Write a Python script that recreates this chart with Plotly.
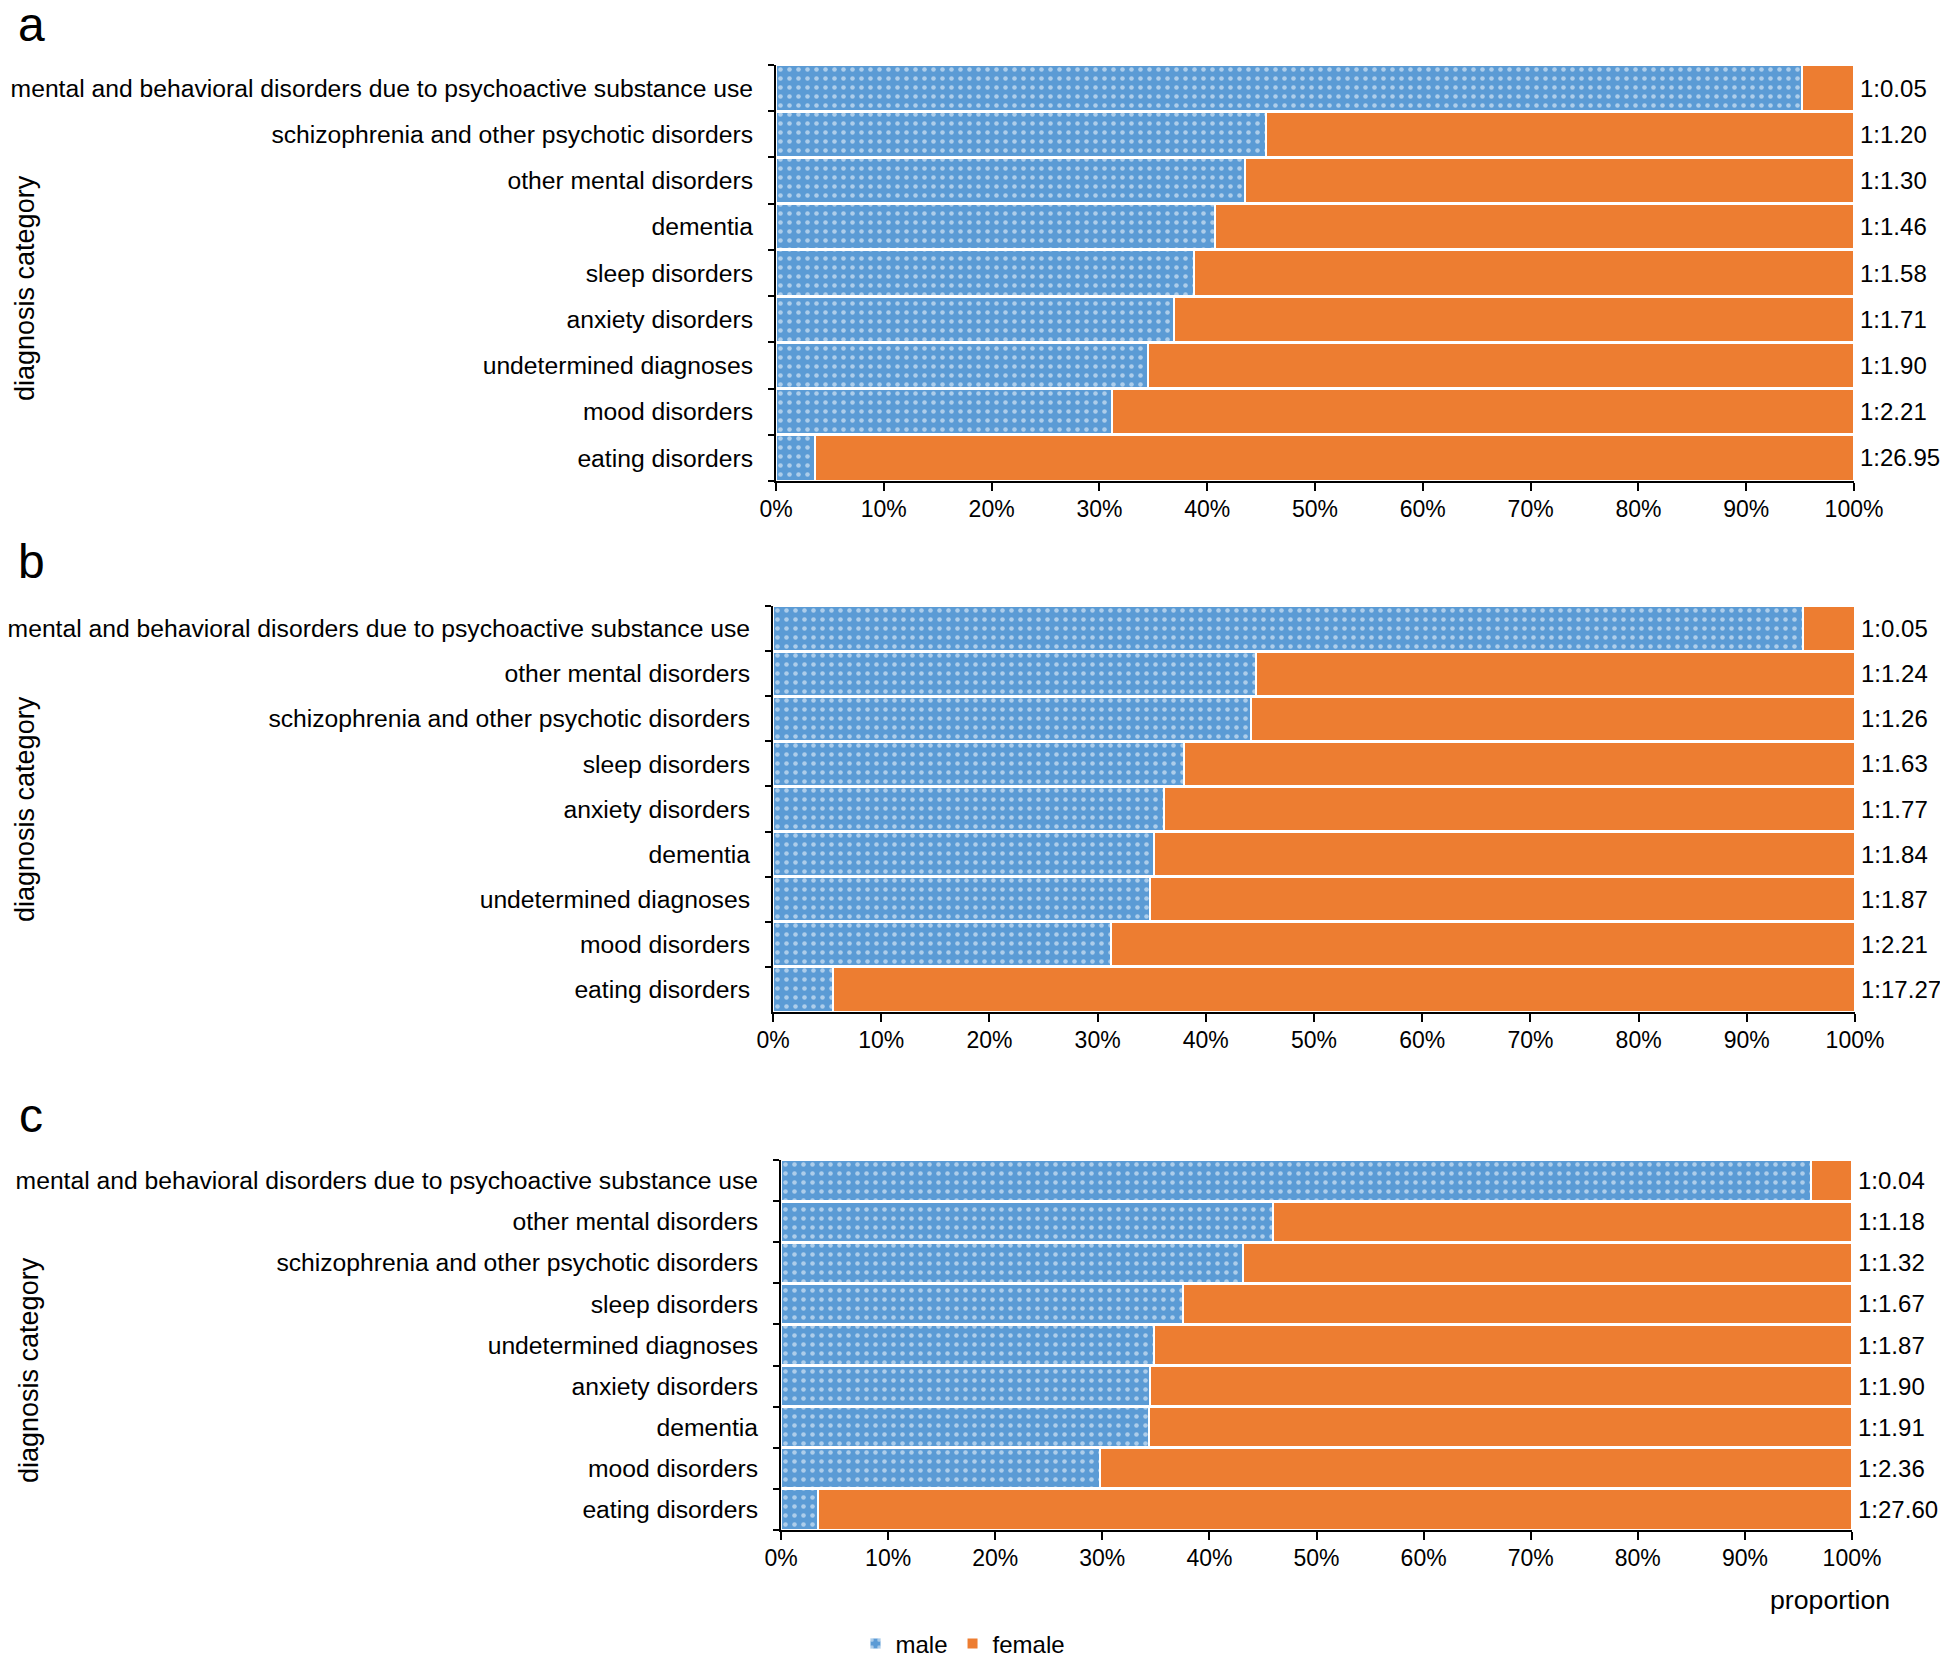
import plotly.graph_objects as go

categories_a = ["mental and behavioral disorders due to psychoactive substance use",
                "schizophrenia and other psychotic disorders", "other mental disorders",
                "dementia", "sleep disorders", "anxiety disorders", "undetermined diagnoses",
                "mood disorders", "eating disorders"]
male_a = [95.2, 45.5, 43.5, 40.7, 38.8, 36.9, 34.5, 31.2, 3.6]
ratio_a = ["1:0.05", "1:1.20", "1:1.30", "1:1.46", "1:1.58", "1:1.71", "1:1.90", "1:2.21", "1:26.95"]

categories_b = ["mental and behavioral disorders due to psychoactive substance use",
                "other mental disorders", "schizophrenia and other psychotic disorders",
                "sleep disorders", "anxiety disorders", "dementia", "undetermined diagnoses",
                "mood disorders", "eating disorders"]
male_b = [95.2, 44.6, 44.2, 38.0, 36.1, 35.2, 34.8, 31.2, 5.5]
ratio_b = ["1:0.05", "1:1.24", "1:1.26", "1:1.63", "1:1.77", "1:1.84", "1:1.87", "1:2.21", "1:17.27"]

categories_c = ["mental and behavioral disorders due to psychoactive substance use",
                "other mental disorders", "schizophrenia and other psychotic disorders",
                "sleep disorders", "undetermined diagnoses", "anxiety disorders", "dementia",
                "mood disorders", "eating disorders"]
male_c = [96.2, 45.9, 43.1, 37.5, 34.8, 34.5, 34.4, 29.8, 3.5]
ratio_c = ["1:0.04", "1:1.18", "1:1.32", "1:1.67", "1:1.87", "1:1.90", "1:1.91", "1:2.36", "1:27.60"]

x_ticks = list(range(0, 101, 10))
panel_letters = ["a", "b", "c"]

BLUE = "#5b9bd5"
ORANGE = "#ed7d31"
FONT = "Liberation Sans, Arial, sans-serif"
W, H = 1940, 1656
OFF = 8  # page body margin


def px(x):
    return (x - OFF) / W


def py(y):
    return 1 - (y - OFF) / H


# (cats, male, ratio, x-range px, y-range px, title pos, letter pos)
panels = [
    (categories_a, male_a, ratio_a, (776, 1854), (65, 481), (25, 288), (31, 24)),
    (categories_b, male_b, ratio_b, (773, 1855), (606, 1012), (25, 809), (31, 561)),
    (categories_c, male_c, ratio_c, (781, 1852), (1160, 1530), (29, 1370), (31, 1115)),
]

fig = go.Figure()
annotations = []
for i, (cats, male, ratio, xr, yr, tpos, lpos) in enumerate(panels):
    n = "" if i == 0 else str(i + 1)
    xa, ya = "x" + n, "y" + n
    female = [round(100 - m, 1) for m in male]
    fig.add_trace(go.Bar(
        y=cats, x=male, orientation="h", name="male", xaxis=xa, yaxis=ya,
        marker=dict(color=BLUE, line=dict(color="white", width=2),
                    pattern=dict(shape=".", fgcolor="white", bgcolor=BLUE, size=9, solidity=0.2)),
        showlegend=(i == 0), legendgroup="male"))
    fig.add_trace(go.Bar(
        y=cats, x=female, orientation="h", name="female", xaxis=xa, yaxis=ya,
        marker=dict(color=ORANGE, line=dict(color="white", width=2)),
        showlegend=(i == 0), legendgroup="female"))
    fig.layout["xaxis" + n] = dict(
        domain=[px(xr[0]), px(xr[1])], anchor=ya, range=[0, 100], tickvals=x_ticks,
        ticktext=[f"{t}%" for t in x_ticks], ticks="outside", ticklen=8, tickwidth=2,
        tickcolor="black", showline=True, linecolor="black", linewidth=2, showgrid=False,
        zeroline=False, automargin=False, ticklabelstandoff=-2,
        tickfont=dict(size=23, color="black", family=FONT), fixedrange=True)
    fig.layout["yaxis" + n] = dict(
        domain=[py(yr[1]), py(yr[0])], anchor=xa, type="category", categoryorder="array",
        categoryarray=cats[::-1], tickson="boundaries", ticks="outside", ticklen=6,
        tickwidth=2, tickcolor="black", showline=True, linecolor="black", linewidth=2,
        showgrid=False, automargin=False, ticklabelstandoff=16,
        tickfont=dict(size=24.7, color="black", family=FONT))
    for c, r in zip(cats, ratio):
        annotations.append(dict(x=1.004, xref=xa + " domain", y=c, yref=ya, text=r,
                                showarrow=False, xanchor="left", yanchor="middle",
                                font=dict(size=24, color="black", family=FONT)))
    annotations.append(dict(x=px(tpos[0]), y=py(tpos[1]), xref="paper", yref="paper",
                            text="diagnosis category", textangle=-90, showarrow=False,
                            xanchor="center", yanchor="middle",
                            font=dict(size=27, color="black", family=FONT)))
    annotations.append(dict(x=px(lpos[0]), y=py(lpos[1]), xref="paper", yref="paper",
                            text=panel_letters[i], showarrow=False,
                            xanchor="center", yanchor="middle",
                            font=dict(size=48, color="black", family=FONT)))

annotations.append(dict(x=px(1830), y=py(1600), xref="paper", yref="paper",
                        text="proportion", showarrow=False, xanchor="center", yanchor="middle",
                        font=dict(size=26.7, color="black", family=FONT)))

fig.update_layout(
    width=W, height=H, barmode="stack", bargap=0.02,
    margin=dict(l=0, r=0, t=0, b=0, autoexpand=False),
    plot_bgcolor="white", paper_bgcolor="white",
    font=dict(family=FONT, size=24, color="black"),
    annotations=annotations,
    legend=dict(orientation="h", x=px(963), xanchor="center", y=py(1644), yanchor="middle",
                font=dict(size=24, color="black", family=FONT), itemwidth=30,
                traceorder="normal", bgcolor="rgba(0,0,0,0)"),
)

fig.write_html("out.html")
